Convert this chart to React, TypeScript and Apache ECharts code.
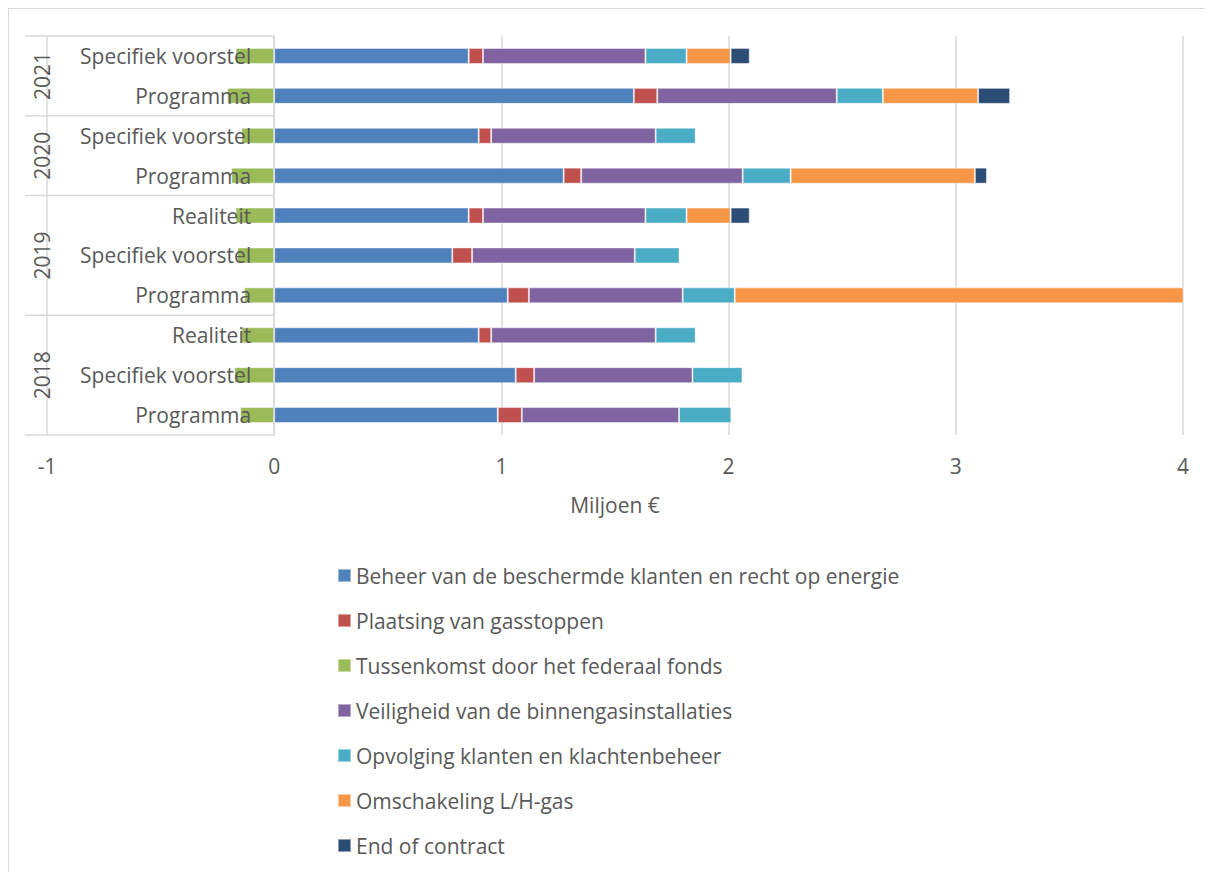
import React, { useEffect, useRef } from "react";
import * as echarts from "echarts";

const rowYears = ["2018", "2018", "2018", "2019", "2019", "2019", "2020", "2020", "2021", "2021"];
const rowLabels = [
  "Programma",
  "Specifiek voorstel",
  "Realiteit",
  "Programma",
  "Specifiek voorstel",
  "Realiteit",
  "Programma",
  "Specifiek voorstel",
  "Programma",
  "Specifiek voorstel",
];

const beheer = [0.984, 1.063, 0.9, 1.028, 0.784, 0.856, 1.274, 0.9, 1.583, 0.856];
const plaatsing = [0.106, 0.081, 0.055, 0.093, 0.087, 0.063, 0.077, 0.055, 0.103, 0.063];
const tussenkomst = [-0.15, -0.176, -0.145, -0.132, -0.163, -0.17, -0.189, -0.145, -0.207, -0.17];
const veiligheid = [0.692, 0.697, 0.724, 0.677, 0.716, 0.715, 0.711, 0.724, 0.79, 0.715];
const opvolging = [0.23, 0.22, 0.176, 0.229, 0.197, 0.181, 0.211, 0.176, 0.203, 0.181];
const omschakeling = [null, null, null, 1.987, null, 0.194, 0.811, null, 0.419, 0.194];
const endOfContract = [null, null, null, null, null, 0.084, 0.053, null, 0.141, 0.084];

const xTicks = [-1, 0, 1, 2, 3, 4];

const seriesDefs = [
  { name: "Beheer van de beschermde klanten en recht op energie", data: beheer, color: "#4F81BD" },
  { name: "Plaatsing van gasstoppen", data: plaatsing, color: "#C0504D" },
  { name: "Tussenkomst door het federaal fonds", data: tussenkomst, color: "#9BBB59" },
  { name: "Veiligheid van de binnengasinstallaties", data: veiligheid, color: "#8064A2" },
  { name: "Opvolging klanten en klachtenbeheer", data: opvolging, color: "#4BACC6" },
  { name: "Omschakeling L/H-gas", data: omschakeling, color: "#F79646" },
  { name: "End of contract", data: endOfContract, color: "#2C4D75" },
];

const FONT = "'Open Sans', Lato, sans-serif";
const TEXT = "#595959";
const LINE = "#d9d9d9";
const FS = 21;

export default function App() {
  const ref = useRef<HTMLDivElement>(null);

  useEffect(() => {
    if (!ref.current) return;
    const chart = echarts.init(ref.current, undefined, { renderer: "svg" });
    const categories = rowLabels.map((l, i) => rowYears[i] + "|" + l);

    const option: any = {
      animation: false,
      textStyle: { fontFamily: FONT },
      grid: {
        left: 38,
        top: 27,
        width: 1136,
        height: 399,
        containLabel: false,
        outerBoundsMode: "none",
      },
      xAxis: {
        type: "value",
        min: xTicks[0],
        max: xTicks[xTicks.length - 1],
        interval: 1,
        axisLine: { show: false },
        axisTick: { show: false },
        splitLine: { show: true, lineStyle: { color: LINE, width: 1.5 } },
        axisLabel: { color: TEXT, fontSize: FS, fontFamily: FONT, margin: 20 },
        name: "Miljoen €",
        nameLocation: "middle",
        nameGap: 59,
        nameTextStyle: { color: TEXT, fontSize: FS, fontFamily: FONT },
      },
      yAxis: {
        type: "category",
        data: categories,
        z: 5,
        axisLine: { show: true, onZero: true, lineStyle: { color: LINE, width: 1.5 } },
        axisTick: { show: false },
        splitLine: { show: false },
        axisLabel: {
          color: TEXT,
          fontSize: FS,
          fontFamily: FONT,
          margin: 23,
          formatter: (v: string) => v.split("|")[1],
        },
      },
      legend: {
        orient: "vertical",
        left: 328,
        top: 556,
        padding: 0,
        itemWidth: 13,
        itemHeight: 13,
        itemGap: 24,
        icon: "rect",
        textStyle: { color: TEXT, fontSize: FS, fontFamily: FONT },
        data: seriesDefs.map((s) => s.name),
      },
      series: seriesDefs.map((s) => ({
        name: s.name,
        type: "bar",
        stack: "total",
        barWidth: 16,
        data: s.data,
        itemStyle: { color: s.color, borderColor: "rgba(255,255,255,0.45)", borderWidth: 1 },
        emphasis: { disabled: true },
      })),
    };
    chart.setOption(option);

    // place category labels next to the zero line (axis crosses at 0)
    const xZero = chart.convertToPixel({ xAxisIndex: 0 }, 0) as number;
    const xMin = chart.convertToPixel({ xAxisIndex: 0 }, xTicks[0]) as number;
    chart.setOption({ yAxis: { axisLabel: { margin: -(xZero - xMin - 23) } } });

    // group decorations (multi-level category axis)
    const y0 = chart.convertToPixel({ yAxisIndex: 0 }, 0) as number;
    const y1 = chart.convertToPixel({ yAxisIndex: 0 }, 1) as number;
    const band = y0 - y1;
    const yearsUnique: string[] = [];
    rowYears.forEach((y) => {
      if (!yearsUnique.includes(y)) yearsUnique.push(y);
    });
    const graphics: any[] = [];
    const boundaryYs: number[] = [y0 + band / 2];
    yearsUnique.forEach((yr) => {
      const idxs = rowYears.map((y, i) => (y === yr ? i : -1)).filter((i) => i >= 0);
      const first = idxs[0];
      const last = idxs[idxs.length - 1];
      const pFirst = chart.convertToPixel({ yAxisIndex: 0 }, first) as number;
      const pLast = chart.convertToPixel({ yAxisIndex: 0 }, last) as number;
      boundaryYs.push(pLast - band / 2);
      graphics.push({
        type: "text",
        x: xMin - 5.5,
        y: (pFirst + pLast) / 2,
        rotation: Math.PI / 2,
        style: {
          text: yr,
          fill: TEXT,
          font: `${FS}px ${FONT}`,
          align: "center",
          verticalAlign: "middle",
        },
        z: 10,
      });
    });
    boundaryYs.forEach((by) => {
      graphics.push({
        type: "line",
        shape: { x1: xMin - 22, y1: by, x2: xZero, y2: by },
        style: { stroke: LINE, lineWidth: 1.5 },
        z: 1,
      });
    });
    chart.setOption({ graphic: graphics });

    return () => chart.dispose();
  }, []);

  return (
    <div
      style={{
        width: 1205,
        height: 864,
        borderTop: "1px solid #d9d9d9",
        borderLeft: "1px solid #d9d9d9",
        boxSizing: "border-box",
        overflow: "hidden",
      }}
    >
      <div ref={ref} style={{ width: 1204, height: 863 }} />
    </div>
  );
}
